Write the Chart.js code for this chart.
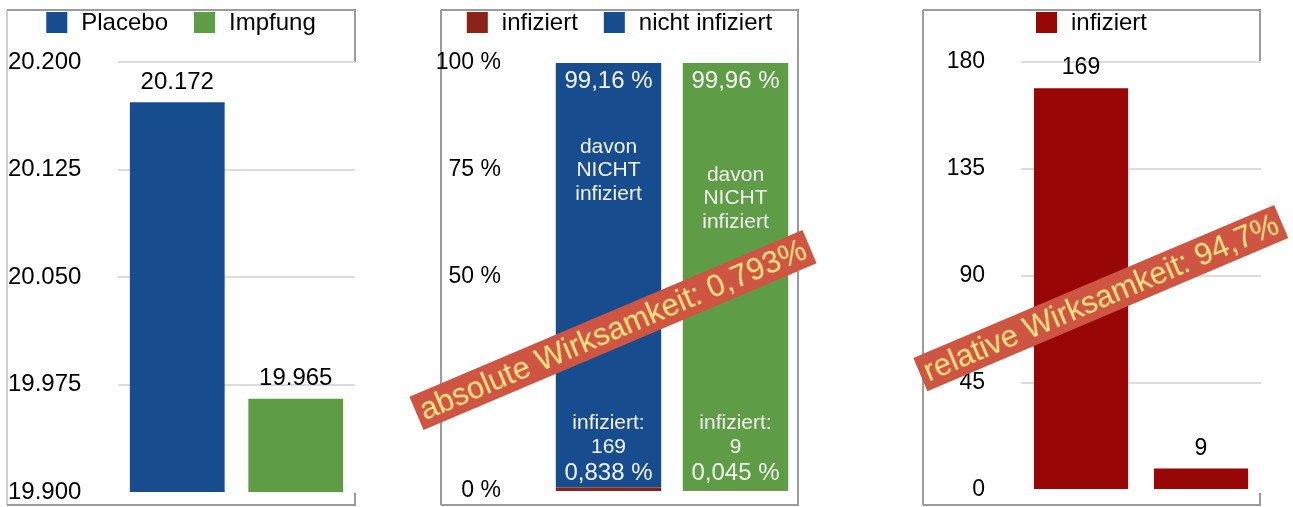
<!DOCTYPE html>
<html>
<head>
<meta charset="utf-8">
<script src="https://cdn.jsdelivr.net/npm/chart.js@4.4.1/dist/chart.umd.min.js"></script>
<style>
html, body { margin: 0; padding: 0; background: #fff; width: 1293px; height: 507px; overflow: hidden; font-family: "Liberation Sans", Arial, sans-serif; }
canvas { position: absolute; top: 0; }
.banner { position: absolute; background: #cd5542; color: #ffe684; font-size: 31px; line-height: 36px; height: 36px; padding: 0 5px; white-space: nowrap; transform: translate(-50%, -50%) rotate(-23deg); }
</style>
</head>
<body>
<canvas id="c1" width="372" height="507" style="left:0"></canvas>
<canvas id="c2" width="380" height="507" style="left:430px"></canvas>
<canvas id="c3" width="393" height="507" style="left:900px"></canvas>
<div class="banner" id="b1" style="left:613px;top:330px"></div>
<div class="banner" id="b2" style="left:1101px;top:298px"></div>
<script>
// --- DATA ---
const groups = ['Placebo', 'Impfung'];
const teilnehmer = [20172, 19965];
const teilnehmerTicks = [19900, 19975, 20050, 20125, 20200];

const anteilInfiziert = [0.838, 0.045];
const anteilNichtInfiziert = [99.16, 99.96];
const anteilTicks = [0, 50, 75, 100];
const anteilNichtLabels = ['99,16 %', '99,96 %'];
const anteilInfLabels = ['0,838 %', '0,045 %'];

const infizierte = [169, 9];
const infizierteTicks = [0, 45, 90, 135, 180];

const bannerAbsolut = 'absolute Wirksamkeit: 0,793%';
const bannerRelativ = 'relative Wirksamkeit: 94,7%';

// --- STYLE ---
const FONT = '"Liberation Sans", Arial, sans-serif';
const BLUE = '#174c8e', GREEN = '#5e9c45', RED_DARK = '#8c2318', RED = '#990606';
const WHITE_TXT = '#f4f4f4';

const fmtThousands = v => String(v).replace(/\B(?=(\d{3})+(?!\d))/g, '.');

function text(ctx, str, x, y, size, color) {
    ctx.font = size + 'px ' + FONT;
    ctx.fillStyle = color;
    ctx.textAlign = 'center';
    ctx.textBaseline = 'middle';
    ctx.fillText(str, x, y);
}

// frame + legend + value labels
const decor = {
    id: 'decor',
    beforeDraw(chart, args, o) {
        const ctx = chart.ctx, f = o.frame;
        ctx.save();
        ctx.lineWidth = 2;
        // left side
        ctx.strokeStyle = o.leftColor || '#9b9b9b';
        ctx.beginPath();
        ctx.moveTo(f.x0, f.y1); ctx.lineTo(f.x0, f.y0);
        ctx.stroke();
        ctx.strokeStyle = '#9b9b9b';
        ctx.beginPath();
        ctx.moveTo(f.x0, f.y0); ctx.lineTo(f.x1, f.y0);
        if (o.openRight) {
            ctx.lineTo(f.x1, chart.chartArea.top);
            ctx.moveTo(f.x1, f.y1 - 12);
        }
        ctx.lineTo(f.x1, f.y1); ctx.lineTo(f.x0, f.y1);
        ctx.stroke();

        // legend, centred on the frame
        ctx.font = '24px ' + FONT;
        const box = 21, gapText = 14, gapItem = 26;
        const widths = o.legend.map(it => box + gapText + ctx.measureText(it.text).width);
        const total = widths.reduce((a, b) => a + b, 0) + gapItem * (widths.length - 1);
        let x = (f.x0 + f.x1) / 2 - total / 2;
        o.legend.forEach((it, i) => {
            ctx.fillStyle = it.color;
            ctx.fillRect(x, 12, box, box);
            ctx.fillStyle = '#000';
            ctx.textAlign = 'left';
            ctx.textBaseline = 'middle';
            ctx.fillText(it.text, x + box + gapText, 23);
            x += widths[i] + gapItem;
        });
        ctx.restore();
    },
    afterDatasetsDraw(chart, args, o) {
        if (!o.labels) return;
        chart.ctx.save();
        o.labels(chart, chart.ctx);
        chart.ctx.restore();
    }
};

const yAxis = (ticksArr, width, extra) => Object.assign({
    min: ticksArr[0],
    max: ticksArr[ticksArr.length - 1],
    afterBuildTicks: s => { s.ticks = ticksArr.map(v => ({ value: v })); },
    afterFit: s => { s.width = width; s.paddingTop = 0; s.paddingBottom = 0; },
    border: { display: false },
    grid: {
        color: c => (c.tick && c.tick.value === ticksArr[0]) ? 'rgba(0,0,0,0)' : '#dcdcdc',
        lineWidth: 2,
        drawTicks: false
    }
}, extra);

const base = {
    responsive: false,
    animation: false,
    plugins: { legend: { display: false }, tooltip: { enabled: false } }
};

// --- PANEL 1: Teilnehmer ---
new Chart(document.getElementById('c1'), {
    type: 'bar',
    data: {
        labels: groups,
        datasets: [{ data: teilnehmer, backgroundColor: [BLUE, GREEN], barPercentage: 0.8, categoryPercentage: 1 }]
    },
    options: Object.assign({}, base, {
        layout: { padding: { left: 8, top: 62, right: 17, bottom: 15 } },
        scales: {
            x: { display: false },
            y: yAxis(teilnehmerTicks, 110, {
                ticks: { crossAlign: 'far', padding: 0, color: '#000', font: { family: FONT, size: 24 }, callback: v => fmtThousands(v) }
            })
        },
        plugins: Object.assign({}, base.plugins, {
            decor: {
                frame: { x0: 7, y0: 10, x1: 355, y1: 505 }, openRight: true, leftColor: '#cfcfcf',
                legend: [{ text: groups[0], color: BLUE }, { text: groups[1], color: GREEN }],
                labels: (chart, ctx) => {
                    chart.getDatasetMeta(0).data.forEach((bar, i) => {
                        text(ctx, fmtThousands(teilnehmer[i]), bar.x, bar.y - 20, 24, '#000');
                    });
                }
            }
        })
    }),
    plugins: [decor]
});

// --- PANEL 2: Anteile ---
const midOffsets = [84, 112];
new Chart(document.getElementById('c2'), {
    type: 'bar',
    data: {
        labels: groups,
        datasets: [
            { label: 'infiziert', data: anteilInfiziert, backgroundColor: RED_DARK, barPercentage: 0.83, categoryPercentage: 1 },
            { label: 'nicht infiziert', data: anteilNichtInfiziert, backgroundColor: [BLUE, GREEN], barPercentage: 0.83, categoryPercentage: 1 }
        ]
    },
    options: Object.assign({}, base, {
        layout: { padding: { left: 0, top: 63, right: 11, bottom: 16 } },
        scales: {
            x: { display: false, stacked: true },
            y: yAxis(anteilTicks, 115, {
                stacked: true,
                grid: { display: false },
                ticks: { padding: 36, color: '#000', font: { family: FONT, size: 23 }, callback: v => v + ' %' }
            })
        },
        plugins: Object.assign({}, base.plugins, {
            decor: {
                frame: { x0: 11, y0: 10, x1: 368, y1: 505 }, openRight: false,
                legend: [{ text: 'infiziert', color: RED_DARK }, { text: 'nicht infiziert', color: BLUE }],
                labels: (chart, ctx) => {
                    const y0 = chart.scales.y.getPixelForValue(0);
                    chart.getDatasetMeta(1).data.forEach((bar, i) => {
                        text(ctx, anteilNichtLabels[i], bar.x, bar.y + 18, 24, WHITE_TXT);
                        ['davon', 'NICHT', 'infiziert'].forEach((w, k) => {
                            text(ctx, w, bar.x, bar.y + midOffsets[i] + k * 23.5, 21, WHITE_TXT);
                        });
                        text(ctx, 'infiziert:', bar.x, y0 - 68, 21, WHITE_TXT);
                        text(ctx, String(infizierte[i]), bar.x, y0 - 44, 21, WHITE_TXT);
                        text(ctx, anteilInfLabels[i], bar.x, y0 - 18, 24, WHITE_TXT);
                    });
                }
            }
        })
    }),
    plugins: [decor]
});

// --- PANEL 3: Infizierte ---
new Chart(document.getElementById('c3'), {
    type: 'bar',
    data: {
        labels: groups,
        datasets: [{ label: 'infiziert', data: infizierte, backgroundColor: RED, barPercentage: 0.785, categoryPercentage: 1 }]
    },
    options: Object.assign({}, base, {
        layout: { padding: { left: 0, top: 62, right: 32, bottom: 17 } },
        scales: {
            x: { display: false },
            y: yAxis(infizierteTicks, 121, {
                ticks: { padding: 36, color: '#000', font: { family: FONT, size: 23 }, callback: v => String(v) }
            })
        },
        plugins: Object.assign({}, base.plugins, {
            decor: {
                frame: { x0: 23, y0: 10, x1: 360, y1: 505 }, openRight: true,
                legend: [{ text: 'infiziert', color: RED }],
                labels: (chart, ctx) => {
                    chart.getDatasetMeta(0).data.forEach((bar, i) => {
                        text(ctx, String(infizierte[i]), bar.x, bar.y - 20, 23, '#000');
                    });
                }
            }
        })
    }),
    plugins: [decor]
});

document.getElementById('b1').textContent = bannerAbsolut;
document.getElementById('b2').textContent = bannerRelativ;
</script>
</body>
</html>
